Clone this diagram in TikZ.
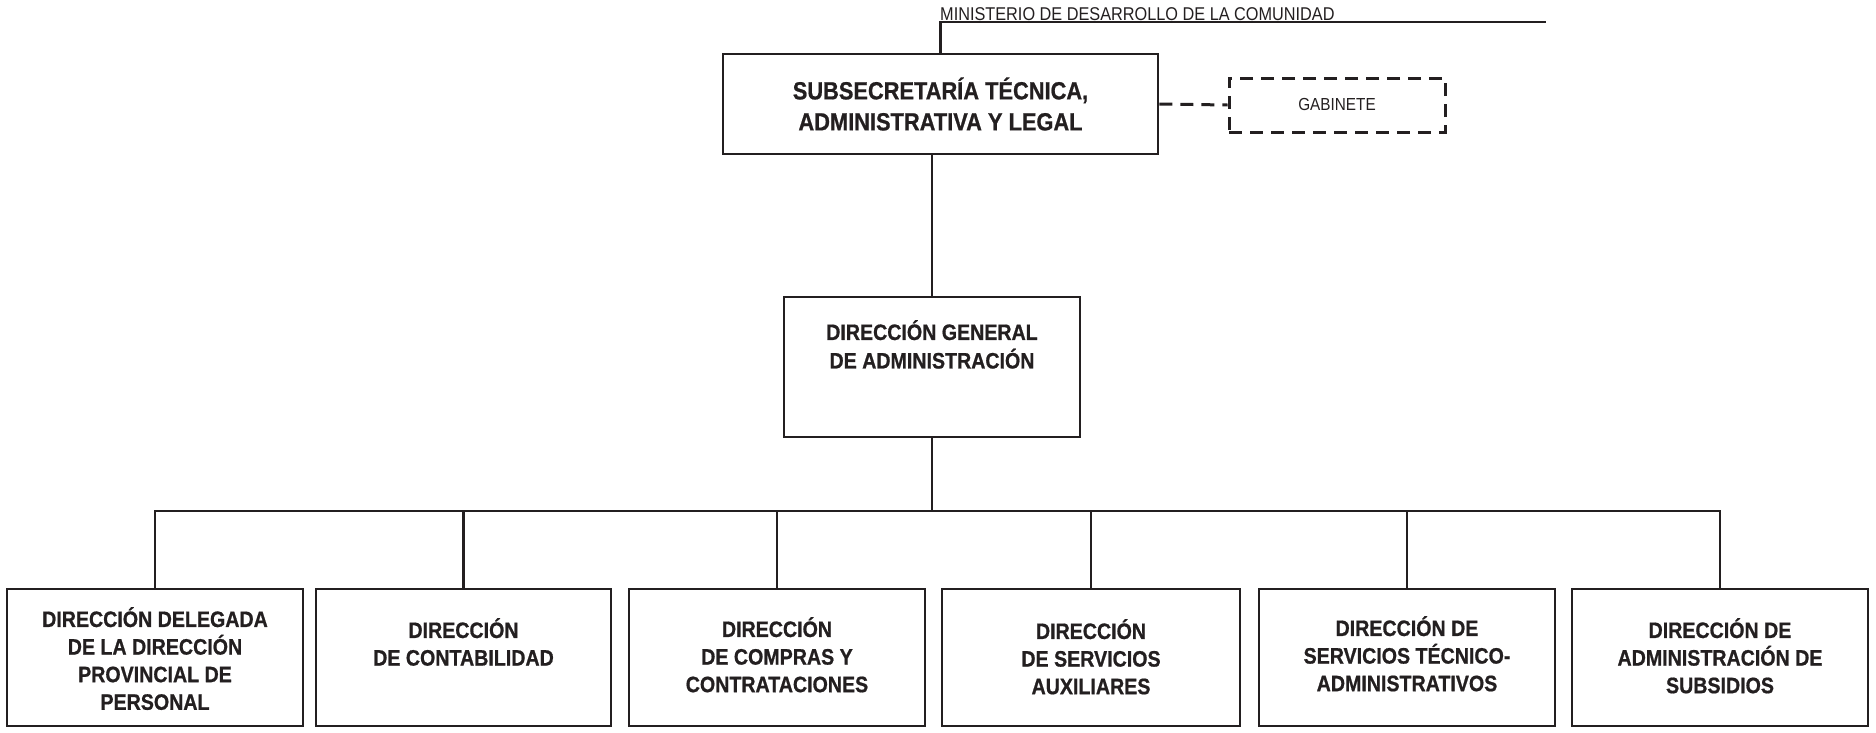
\documentclass[tikz,border=0pt]{standalone}
\usepackage{fontspec}
\setmainfont{Liberation Sans}[FakeStretch=0.88, BoldFeatures={FakeBold=0.8}]
\definecolor{ink}{RGB}{35,31,32}
\tikzset{
  box/.style={draw=ink, line width=2.7pt, fill=white, inner sep=0pt,
              minimum width=296pt, minimum height=137pt},
  lbl/.style={text=ink, align=center, inner sep=0pt,
              font=\bfseries\fontsize{22.3pt}{27.6pt}\selectfont},
  conn/.style={draw=ink, line width=2.5pt},
  dashline/.style={draw=ink, line width=3pt, dash pattern=on 13pt off 8pt},
}
\begin{document}
\begin{tikzpicture}[x=1pt,y=-1pt]
\useasboundingbox (0,0) rectangle (1876,732);

% top
\node[draw=ink, line width=2.7pt, inner sep=0pt, minimum width=435pt, minimum height=100pt,
      text=ink, align=center, font=\bfseries\fontsize{24.8pt}{31pt}\selectfont]
      (sub) at (940.5,104) {SUBSECRETARÍA TÉCNICA,\\ADMINISTRATIVA Y LEGAL};
\node[dashline, inner sep=0pt, minimum width=216pt, minimum height=54pt,
      text=ink, font=\fontsize{17.4pt}{20pt}\selectfont]
      (gab) at (1337,105) {GABINETE};
\node[anchor=base west, inner sep=0pt, text=ink, font=\fontsize{18.5pt}{20pt}\selectfont]
      (min) at (940,20) {MINISTERIO DE DESARROLLO DE LA COMUNIDAD};
\coordinate (mend) at (1546,22);
\draw[conn] (sub.north) |- (mend);
\draw[dashline] (sub.east) -- (gab.west);

% general
\node[box, minimum height=140pt] (dg) at (932,367) {};
\node[lbl, anchor=north, font=\bfseries\fontsize{22.3pt}{28.5pt}\selectfont]
      (dgt) at (932,320) {DIRECCIÓN GENERAL\\DE ADMINISTRACIÓN};
\draw[conn] (dg.north) -- (dg.north |- sub.south);

% bottom row
\node[box] (b1) at (155,657.5) {};
\node[box, minimum width=295pt] (b2) at (463.5,657.5) {};
\node[box] (b3) at (777,657.5) {};
\node[box, minimum width=298pt] (b4) at (1091,657.5) {};
\node[box] (b5) at (1407,657.5) {};
\node[box] (b6) at (1720,657.5) {};

\node[lbl, anchor=north] (t1) at (155,607) {DIRECCIÓN DELEGADA\\DE LA DIRECCIÓN\\PROVINCIAL DE\\PERSONAL};
\node[lbl, anchor=north] (t2) at (463.5,618) {DIRECCIÓN\\DE CONTABILIDAD};
\node[lbl, anchor=north] (t3) at (777,617) {DIRECCIÓN\\DE COMPRAS Y\\CONTRATACIONES};
\node[lbl, anchor=north] (t4) at (1091,619) {DIRECCIÓN\\DE SERVICIOS\\AUXILIARES};
\node[lbl, anchor=north] (t5) at (1407,616) {DIRECCIÓN DE\\SERVICIOS TÉCNICO-\\ADMINISTRATIVOS};
\node[lbl, anchor=north] (t6) at (1720,618) {DIRECCIÓN DE\\ADMINISTRACIÓN DE\\SUBSIDIOS};

\coordinate (busy) at (0,511);
\draw[conn] (dg.south) -- (dg.south |- busy);
\draw[conn] (b1.north) |- (b6.north |- busy) -- (b6.north);
\foreach \b in {b2,b3,b4,b5}{
  \draw[conn] (\b.north) -- (\b.north |- busy);
}
\end{tikzpicture}
\end{document}
